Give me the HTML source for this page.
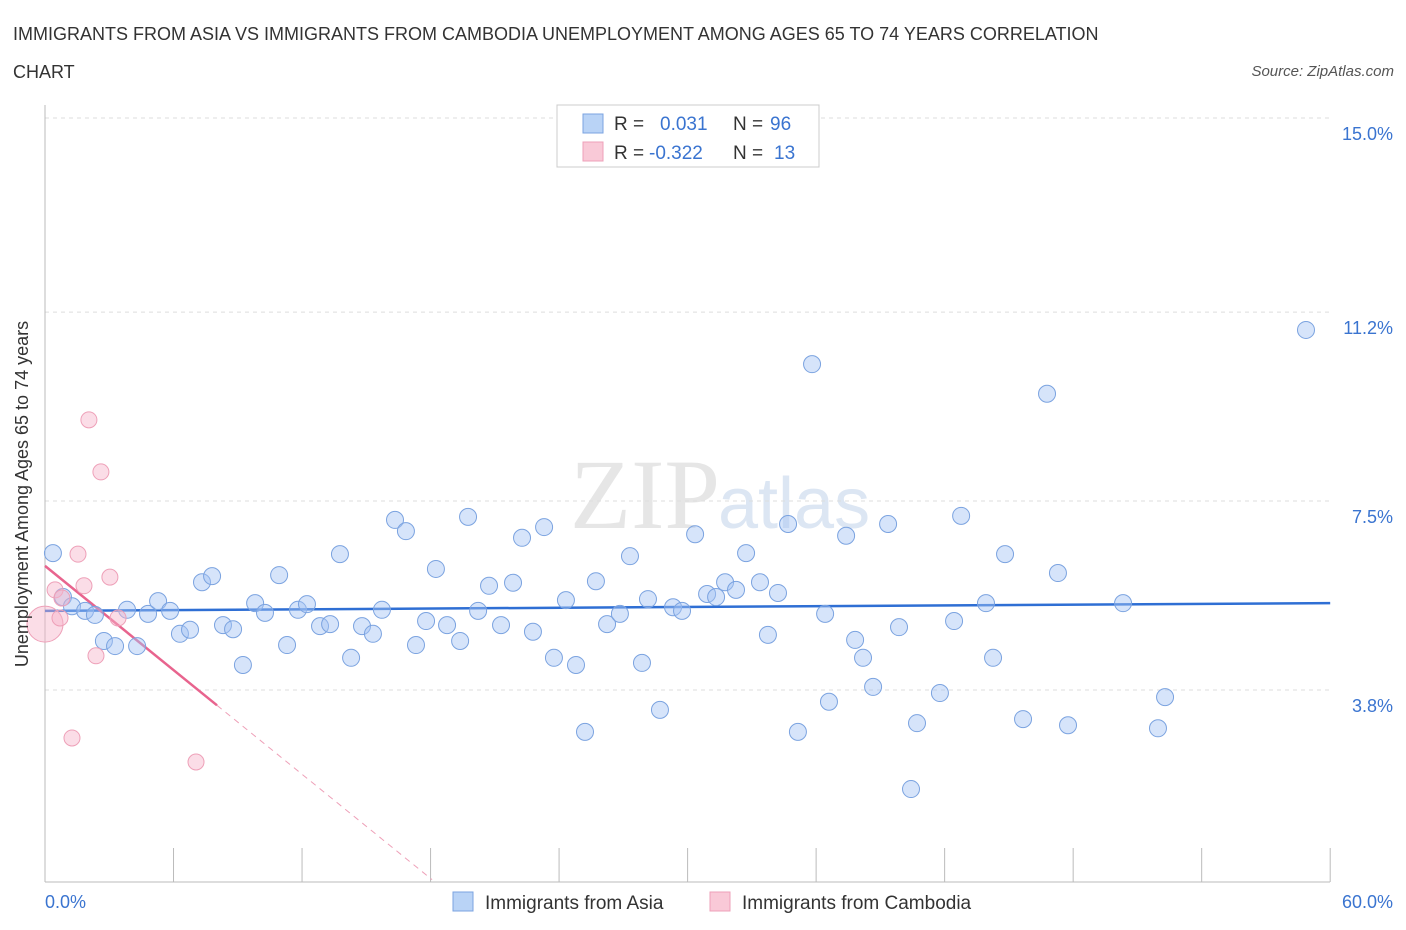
<!DOCTYPE html>
<html><head><meta charset="utf-8"><style>
body{margin:0;background:#fff;font-family:"Liberation Sans",sans-serif;}
svg{display:block}
</style></head><body>
<svg width="1406" height="930" xmlns="http://www.w3.org/2000/svg" id="chart">
<text x="13" y="40" font-size="18" fill="#333">IMMIGRANTS FROM ASIA VS IMMIGRANTS FROM CAMBODIA UNEMPLOYMENT AMONG AGES 65 TO 74 YEARS CORRELATION</text>
<text x="13" y="78" font-size="18" fill="#333">CHART</text>
<text x="1394" y="76" font-size="15" fill="#555" text-anchor="end" font-style="italic">Source: ZipAtlas.com</text>
<text x="720" y="528" font-size="100" fill="#e6e6e6" text-anchor="end" font-family="Liberation Serif">ZIP</text>
<text x="718" y="528" font-size="72" fill="#dce6f3">atlas</text>
<g id="grid"></g><g id="axes"></g><g id="trends"></g><g id="pts"></g>
<g>
<rect x="557" y="105" width="262" height="62" fill="#fff" stroke="#ccc"/>
<rect x="583" y="114" width="20" height="19" fill="#b9d3f6" stroke="#7ba3e0"/>
<rect x="583" y="142" width="20" height="19" fill="#f9c9d7" stroke="#eea0b8"/>
<text x="614" y="130" font-size="19" fill="#333">R = </text><text x="660" y="130" font-size="19" fill="#3a74d0">0.031</text>
<text x="733" y="130" font-size="19" fill="#333">N = </text><text x="770" y="130" font-size="19" fill="#3a74d0">96</text>
<text x="614" y="159" font-size="19" fill="#333">R = </text><text x="649" y="159" font-size="19" fill="#3a74d0">-0.322</text>
<text x="733" y="159" font-size="19" fill="#333">N = </text><text x="774" y="159" font-size="19" fill="#3a74d0">13</text>
</g>
<g>
<rect x="453" y="892" width="20" height="19" fill="#b9d3f6" stroke="#7ba3e0"/>
<text x="485" y="909" font-size="19" fill="#333">Immigrants from Asia</text>
<rect x="710" y="892" width="20" height="19" fill="#f9c9d7" stroke="#eea0b8"/>
<text x="742" y="909" font-size="19" fill="#333">Immigrants from Cambodia</text>
</g>
<text x="28" y="494" font-size="18" fill="#333" text-anchor="middle" transform="rotate(-90 28 494)">Unemployment Among Ages 65 to 74 years</text>
</svg>
<script>
const asiaX=[0.37,0.84,1.26,1.87,2.33,2.75,3.27,3.83,4.30,4.81,5.28,5.84,6.30,6.77,7.33,7.80,8.31,8.78,9.24,9.81,10.27,10.93,11.30,11.81,12.23,12.84,13.31,13.77,14.29,14.80,15.31,15.73,16.34,16.85,17.32,17.79,18.25,18.77,19.38,19.75,20.22,20.73,21.29,21.85,22.27,22.78,23.30,23.76,24.32,24.79,25.21,25.72,26.24,26.84,27.31,27.87,28.15,28.71,29.32,29.74,30.35,30.91,31.33,31.75,32.26,32.73,33.38,33.75,34.22,34.69,35.15,35.81,36.42,36.60,37.40,37.82,38.19,38.66,39.36,39.87,40.43,40.71,41.78,42.44,42.77,43.93,44.26,44.82,45.66,46.78,47.29,47.76,50.33,51.96,52.29,58.87];
const asiaY=[6.48,5.62,5.44,5.35,5.27,4.76,4.66,5.37,4.66,5.29,5.54,5.35,4.90,4.98,5.91,6.03,5.07,4.99,4.29,5.50,5.31,6.05,4.68,5.37,5.48,5.05,5.09,6.46,4.43,5.05,4.90,5.37,7.13,6.91,4.68,5.15,6.17,5.07,4.76,7.19,5.35,5.84,5.07,5.90,6.78,4.94,6.99,4.43,5.56,4.29,2.98,5.93,5.09,5.29,6.42,4.33,5.58,3.41,5.42,5.35,6.85,5.68,5.62,5.91,5.76,6.48,5.91,4.88,5.70,7.05,2.98,10.18,5.29,3.57,6.82,4.78,4.43,3.86,7.05,5.03,1.86,3.15,3.74,5.15,7.21,5.50,4.43,6.46,3.23,9.60,6.09,3.11,5.50,3.05,3.66,10.85];
const camX=[0,0.47,0.70,0.79,1.26,1.54,1.82,2.05,2.38,2.61,3.03,3.41,7.05];
const camY=[5.09,5.76,5.21,5.60,2.86,6.46,5.84,9.09,4.47,8.07,6.01,5.21,2.39];
const camSize=[18,8,8,8,8,8,8,8,8,8,8,8,8];
const yTicks=[3.8,7.5,11.2,15.0];
const yTickLabels=["3.8%","7.5%","11.2%","15.0%"];
const xTickLabels=["0.0%","60.0%"];
const asiaTrend=[5.35,5.50];
const camTrend=[6.23,-0.34];
const NS="http://www.w3.org/2000/svg";
const sx=v=>45+v*21.42, sy=v=>118+(15-v)*51.07;
function mk(tag,attrs,parent){const e=document.createElementNS(NS,tag);for(const k in attrs)e.setAttribute(k,attrs[k]);document.getElementById(parent).appendChild(e);return e;}
yTicks.forEach((t,i)=>{
 const l=mk('line',{x1:45,x2:1330,y1:sy(t),y2:sy(t),stroke:'#ddd','stroke-dasharray':'4,4'},'grid');
 
 
 const tx=mk('text',{x:1393,y:sy(t)+22,'font-size':18,fill:'#3a74d0','text-anchor':'end'},'grid');
 tx.textContent=yTickLabels[i];
 
 
});
let a=mk('line',{x1:45,x2:1330,y1:882,y2:882,stroke:'#bbb'},'axes');


a=mk('line',{x1:45,x2:45,y1:105,y2:882,stroke:'#bbb'},'axes');


for(let i=0;i<=10;i++){const t=mk('line',{x1:sx(i*6),x2:sx(i*6),y1:848,y2:882,stroke:'#bbb'},'axes');
 
 }
let xl=mk('text',{x:45,y:908,'font-size':18,fill:'#3a74d0'},'axes');xl.textContent=xTickLabels[0];


xl=mk('text',{x:1393,y:908,'font-size':18,fill:'#3a74d0','text-anchor':'end'},'axes');xl.textContent=xTickLabels[1];


asiaX.forEach((x,i)=>{const c=mk('circle',{cx:sx(x),cy:sy(asiaY[i]),r:8.5,fill:'rgba(164,196,244,0.45)',stroke:'#7ba3e0','stroke-width':1},'pts');
 
 });
camX.forEach((x,i)=>{const c=mk('circle',{cx:sx(x),cy:sy(camY[i]),r:camSize[i],fill:'rgba(246,180,202,0.45)',stroke:'#eea0b8','stroke-width':1},'pts');
 
 });
let tl=mk('line',{x1:sx(0),x2:sx(60),y1:sy(asiaTrend[0]),y2:sy(asiaTrend[1]),stroke:'#2f6fd4','stroke-width':2.5},'trends');


const cf=x=>camTrend[0]+camTrend[1]*x;
tl=mk('line',{x1:sx(0),x2:sx(8.03),y1:sy(cf(0)),y2:sy(cf(8.03)),stroke:'#e8648e','stroke-width':2.5},'trends');


tl=mk('line',{x1:sx(8.03),x2:sx(18.07),y1:sy(cf(8.03)),y2:sy(cf(18.07)),stroke:'#eea0b8','stroke-width':1,'stroke-dasharray':'6,5'},'trends');


</script>
</body></html>
